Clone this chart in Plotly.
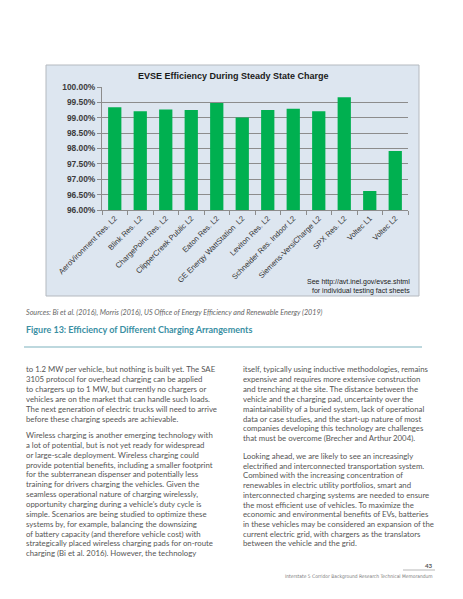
import plotly.graph_objects as go

W, H = 463, 599
# the page is shown with the browser's 8px body margin, so page pixels are shifted back by it
OFFSET = 8

chargers = ["AeroVironment Res. L2", "Blink Res. L2", "ChargePoint Res. L2",
            "ClipperCreek Public L2", "Eaton Res. L2", "GE Energy WattStation  L2",
            "Leviton Res. L2", "Schneider Res. Indoor L2", "Siemens-VersiCharge L2",
            "SPX Res. L2", "Voltec L1", "Voltec L2"]
efficiency = [99.34, 99.21, 99.27, 99.25, 99.48, 99.01,
              99.25, 99.29, 99.21, 99.67, 96.62, 97.92]
y_ticks = [96.0, 96.5, 97.0, 97.5, 98.0, 98.5, 99.0, 99.5, 100.0]
y_tick_labels = ["<b>%.2f%%</b>" % v for v in y_ticks]

chart_title = "EVSE Efficiency During Steady State Charge"
chart_note = ["See http://avt.inel.gov/evse.shtml", "for individual testing fact sheets"]
sources = "Sources: Bi et al. (2016), Morris (2016), US Office of Energy Efficiency and Renewable Energy (2019)"
caption = "Figure 13: Efficiency of Different Charging Arrangements"

left_col = [
    ["to 1.2 MW per vehicle, but nothing is built yet. The SAE",
     "3105 protocol for overhead charging can be applied",
     "to chargers up to 1 MW, but currently no chargers or",
     "vehicles are on the market that can handle such loads.",
     "The next generation of electric trucks will need to arrive",
     "before these charging speeds are achievable."],
    ["Wireless charging is another emerging technology with",
     "a lot of potential, but is not yet ready for widespread",
     "or large-scale deployment. Wireless charging could",
     "provide potential benefits, including a smaller footprint",
     "for the subterranean dispenser and potentially less",
     "training for drivers charging the vehicles. Given the",
     "seamless operational nature of charging wirelessly,",
     "opportunity charging during a vehicle\u2019s duty cycle is",
     "simple. Scenarios are being studied to optimize these",
     "systems by, for example, balancing the downsizing",
     "of battery capacity (and therefore vehicle cost) with",
     "strategically placed wireless charging pads for on-route",
     "charging (Bi et al. 2016). However, the technology"],
]
right_col = [
    ["itself, typically using inductive methodologies, remains",
     "expensive and requires more extensive construction",
     "and trenching at the site. The distance between the",
     "vehicle and the charging pad, uncertainty over the",
     "maintainability of a buried system, lack of operational",
     "data or case studies, and the start-up nature of most",
     "companies developing this technology are challenges",
     "that must be overcome (Brecher and Arthur 2004)."],
    ["Looking ahead, we are likely to see an increasingly",
     "electrified and interconnected transportation system.",
     "Combined with the increasing concentration of",
     "renewables in electric utility portfolios, smart and",
     "interconnected charging systems are needed to ensure",
     "the most efficient use of vehicles. To maximize the",
     "economic and environmental benefits of EVs, batteries",
     "in these vehicles may be considered an expansion of the",
     "current electric grid, with chargers as the translators",
     "between the vehicle and the grid."],
]
page_no = "43"
footer = "Interstate 5 Corridor Background Research Technical Memorandum"


def px(x):
    return (x - OFFSET) / W


def py(y):
    return 1 - (y - OFFSET) / H


fig = go.Figure(go.Bar(
    x=chargers, y=efficiency,
    marker=dict(color="#00b050", line=dict(width=0)),
    hoverinfo="x+y",
))

chart_bg = "#dde6f0"
axis_grey = "#8c8c8c"

fig.update_layout(
    template="none",
    width=W, height=H,
    margin=dict(l=0, r=0, t=0, b=0, pad=0),
    paper_bgcolor="white",
    plot_bgcolor=chart_bg,
    showlegend=False,
    bargap=0.48,
    xaxis=dict(
        domain=[px(102), px(408)],
        automargin=False,
        tickangle=-45,
        tickfont=dict(family="Liberation Sans, Arial", size=7.6, color="#333333"),
        showline=True, linecolor=axis_grey, linewidth=1,
        ticks="outside", tickson="boundaries", ticklen=4, tickcolor=axis_grey,
        showgrid=False, zeroline=False,
    ),
    yaxis=dict(
        domain=[py(210), py(87)],
        automargin=False,
        range=[96, 100],
        tickvals=y_ticks, ticktext=y_tick_labels,
        tickfont=dict(family="Liberation Sans, Arial", size=8.4, color="#3c3c3c"),
        showline=True, linecolor=axis_grey, linewidth=1,
        ticks="outside", ticklen=4, tickcolor=axis_grey,
        showgrid=True, gridcolor=axis_grey, gridwidth=1,
        zeroline=False,
    ),
    font=dict(family="Lato, sans-serif", color="#555555"),
)

shapes = [
    dict(type="rect", xref="paper", yref="paper",
         x0=px(46), x1=px(419), y0=py(296), y1=py(65),
         fillcolor=chart_bg, line=dict(color="#b4b9bf", width=1), layer="below"),
    dict(type="line", xref="paper", yref="paper",
         x0=px(24), x1=px(422), y0=py(347), y1=py(347),
         line=dict(color="#a7cbd3", width=1.6)),
    dict(type="line", xref="paper", yref="paper",
         x0=px(403), x1=px(435), y0=py(570), y1=py(570),
         line=dict(color="#9a9a9a", width=0.7)),
]

annotations = [
    dict(text="<b>" + chart_title + "</b>", x=px(233), y=py(76),
         font=dict(family="Liberation Sans, Arial", size=9, color="#1a1a1a")),
    dict(text=chart_note[0], x=px(412), y=py(282), xanchor="right",
         font=dict(family="Liberation Sans, Arial", size=7, color="#222222")),
    dict(text=chart_note[1], x=px(412), y=py(291), xanchor="right",
         font=dict(family="Liberation Sans, Arial", size=7, color="#222222")),
    dict(text="<i>" + sources + "</i>", x=px(24), y=py(312), xanchor="left",
         font=dict(family="Lato", size=7.2, color="#666666")),
    dict(text="<b>" + caption + "</b>", x=px(24), y=py(329), xanchor="left",
         font=dict(family="Lato", size=9, color="#3a8fa3")),
    dict(text="<b>" + page_no + "</b>", x=px(435), y=py(565), xanchor="right",
         font=dict(family="Lato", size=6.2, color="#555555")),
    dict(text=footer, x=px(435), y=py(576), xanchor="right",
         font=dict(family="Liberation Sans Narrow, DejaVu Sans Condensed, Lato", size=4.9,
                   color="#777777")),
]


def add_paragraph(lines, x0, y0, step):
    for i, line in enumerate(lines):
        annotations.append(dict(
            text=line, x=px(x0), y=py(y0 + i * step), xanchor="left",
            font=dict(family="Lato", size=7.8, color="#555555")))


add_paragraph(left_col[0], 24, 369, 9.9)
add_paragraph(left_col[1], 24, 435, 9.85)
add_paragraph(right_col[0], 241, 369, 9.9)
add_paragraph(right_col[1], 241, 456, 9.7)

for a in annotations:
    a.setdefault("xref", "paper")
    a.setdefault("yref", "paper")
    a.setdefault("yanchor", "middle")
    a.setdefault("showarrow", False)

fig.update_layout(shapes=shapes, annotations=annotations)

fig.write_html("out.html")
